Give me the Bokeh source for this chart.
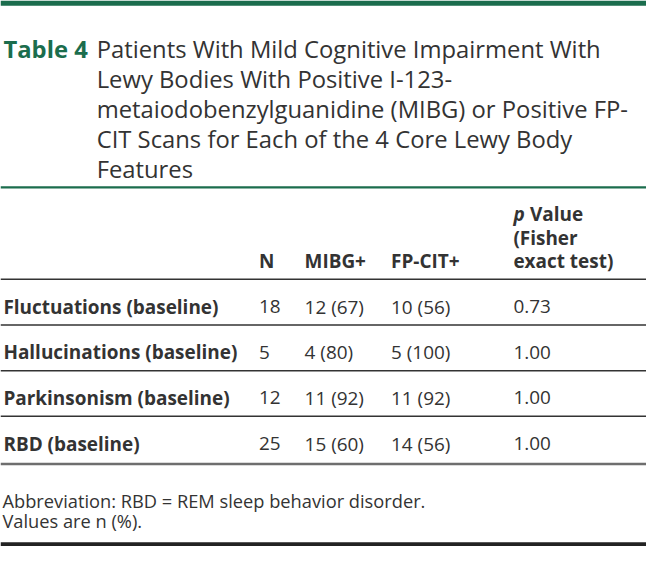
from bokeh.plotting import figure
from bokeh.models import Range1d
from bokeh.core.properties import value
from bokeh.embed import file_html
from bokeh.resources import INLINE

# ---- data ----
table_label = "Table 4"
title_lines = [
    "Patients With Mild Cognitive Impairment With",
    "Lewy Bodies With Positive I-123-",
    "metaiodobenzylguanidine (MIBG) or Positive FP-",
    "CIT Scans for Each of the 4 Core Lewy Body",
    "Features",
]
col_headers = ["N", "MIBG+", "FP-CIT+"]
p_header_lines = ["(Fisher", "exact test)"]
features = ["Fluctuations (baseline)", "Hallucinations (baseline)",
            "Parkinsonism (baseline)", "RBD (baseline)"]
n_total = [18, 5, 12, 25]
mibg_n = [12, 4, 11, 15]
mibg_pct = [67, 80, 92, 60]
fpcit_n = [10, 5, 11, 14]
fpcit_pct = [56, 100, 92, 56]
p_values = [0.73, 1.00, 1.00, 1.00]
footnotes = ["Abbreviation: RBD = REM sleep behavior disorder.", "Values are n (%)."]

# ---- layout (reference pixel space 665 x 562) ----
W, H = 665, 562
S = 546 / H
GREEN = "#1b6d4d"
TEXT = "#333333"
FONT = value("Open Sans")


def fs(px):
    return value(f"{px * S:.2f}px")


p = figure(width=round(W * S), height=546, x_range=Range1d(0, W), y_range=Range1d(H, 0),
           output_backend="svg", toolbar_location=None,
           x_axis_location=None, y_axis_location=None, min_border=0)
p.grid.visible = False
p.outline_line_color = None
p.background_fill_color = "white"
p.border_fill_color = "white"

# top bar
p.quad(left=[0], right=[W], top=[0], bottom=[5.5], fill_color=GREEN, line_color=None)

# title
p.text(x=[3], y=[50], text=[table_label], text_font=FONT, text_font_size=fs(24.5),
       text_font_style="bold", text_color=GREEN, text_baseline="alphabetic")
p.text(x=[99] * len(title_lines), y=[50 + 30.75 * i for i in range(len(title_lines))],
       text=title_lines, text_font=FONT, text_font_size=fs(24.5),
       text_color=TEXT, text_baseline="alphabetic")

# rules
p.segment(x0=[0], x1=[W], y0=[192.3], y1=[192.3], line_color=GREEN, line_width=2.2 * S)
row_lines = [287, 334, 381, 428]
p.segment(x0=[0] * 4, x1=[W] * 4, y0=row_lines, y1=row_lines, line_color="#333333",
          line_width=1.6 * S)
p.segment(x0=[0], x1=[W], y0=[477], y1=[477], line_color="#6e6e6e", line_width=2.6 * S)
p.quad(left=[0], right=[W], top=[557.5], bottom=[H], fill_color="#222222", line_color=None)

# header
col_x = [266, 313, 402, 528]
hdr_base = 268
p.text(x=col_x[:3], y=[hdr_base] * 3, text=col_headers, text_font=FONT, text_font_size=fs(19.5),
       text_font_style="bold", text_color=TEXT, text_baseline="alphabetic")
p.text(x=[col_x[3]], y=[hdr_base - 48], text=["p"], text_font=FONT, text_font_size=fs(19.5),
       text_font_style="bold italic", text_color=TEXT, text_baseline="alphabetic")
p.text(x=[col_x[3] + 17], y=[hdr_base - 48], text=["Value"], text_font=FONT,
       text_font_size=fs(19.5), text_font_style="bold", text_color=TEXT,
       text_baseline="alphabetic")
p.text(x=[col_x[3]] * 2, y=[hdr_base - 24, hdr_base], text=p_header_lines, text_font=FONT,
       text_font_size=fs(19.5), text_font_style="bold", text_color=TEXT,
       text_baseline="alphabetic")

# rows
row_base = [315 + 47 * i for i in range(len(features))]
p.text(x=[3] * len(features), y=row_base, text=features, text_font=FONT,
       text_font_size=fs(19.5), text_font_style="bold", text_color=TEXT,
       text_baseline="alphabetic")
cells = [
    [str(v) for v in n_total],
    [f"{a} ({b})" for a, b in zip(mibg_n, mibg_pct)],
    [f"{a} ({b})" for a, b in zip(fpcit_n, fpcit_pct)],
    [f"{v:.2f}" for v in p_values],
]
for cx, col in zip(col_x, cells):
    p.text(x=[cx] * len(col), y=row_base, text=col, text_font=FONT, text_font_size=fs(19.5),
           text_color=TEXT, text_baseline="alphabetic")

# footnotes
p.text(x=[2, 2], y=[515, 535], text=footnotes, text_font=FONT, text_font_size=fs(18.8),
       text_color=TEXT, text_baseline="alphabetic")

open("out.html", "w").write(file_html(p, INLINE))
